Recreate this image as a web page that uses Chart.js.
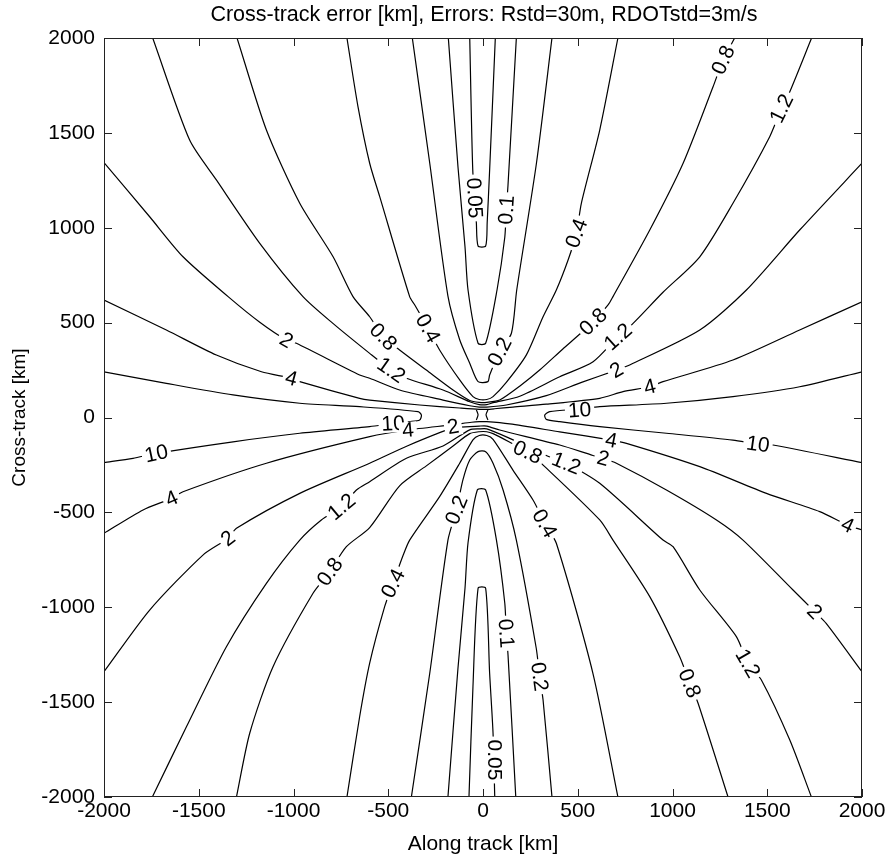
<!DOCTYPE html>
<html>
<head>
<meta charset="utf-8">
<script src="https://cdn.jsdelivr.net/npm/chart.js@4.4.0/dist/chart.umd.min.js"></script>
<style>
  html, body { margin: 0; padding: 0; background: #fff; }
</style>
</head>
<body>
<canvas id="chart" width="890" height="863"></canvas>
<script>
// Contour lines, [along-track km, cross-track km]
const c005Up = [[-70,2000],[-54,1304],[-35,1025],[-26,904],[14,904],[22,1025],[35,1304],[65,2000]];
const c005Dn = [[-74,-2000],[-53,-1419],[-26,-900],[14,-900],[35,-1348],[53,-1664],[62,-2000]];
const c01Up = [[-183,2000],[-132,1320],[-95,900],[-79,672],[-26,391],[14,391],[74,672],[115,950],[123,1094],[132,1225],[176,2000]];
const c01Dn = [[-185,-2000],[-132,-1320],[-95,-900],[-79,-660],[-30,-382],[14,-382],[71,-646],[115,-979],[123,-1137],[132,-1251],[173,-2000]];
const c02Up = [[-373,2000],[-281,1340],[-185,640],[-123,410],[-70,286],[-26,189],[26,189],[35,224],[88,347],[150,444],[178,672],[282,1340],[364,2000]];
const c02Dn = [[-378,-2000],[-281,-1348],[-185,-646],[-140,-487],[-106,-329],[-70,-224],[-26,-180],[14,-180],[53,-241],[106,-382],[176,-646],[281,-1216],[299,-1366],[317,-1489],[364,-2000]];
const c04Up = [[-718,2000],[-660,1640],[-598,1340],[-545,1164],[-387,637],[-360,593],[-290,470],[-229,356],[-123,198],[-53,110],[-20,95],[20,95],[53,110],[123,185],[229,330],[317,531],[387,672],[449,830],[493,971],[519,1129],[616,1515],[712,2000]];
const c04Dn = [[-718,-2000],[-651,-1577],[-598,-1295],[-519,-997],[-475,-874],[-421,-725],[-387,-646],[-229,-417],[-123,-241],[-53,-118],[-20,-95],[20,-95],[53,-115],[158,-277],[264,-435],[326,-556],[387,-663],[580,-1348],[712,-2000]];
const c08Up = [[-1298,2000],[-1143,1515],[-967,1129],[-791,847],[-686,637],[-598,531],[-526,426],[-440,356],[-299,250],[-158,145],[-70,90],[-20,80],[20,80],[88,92],[200,170],[299,250],[420,360],[511,440],[581,505],[660,593],[686,637],[880,988],[1056,1340],[1214,1743],[1267,1884],[1328,2000]];
const c08Dn = [[-1301,-2000],[-1231,-1664],[-1108,-1313],[-897,-926],[-809,-813],[-721,-681],[-598,-580],[-440,-360],[-299,-255],[-158,-150],[-70,-85],[-20,-75],[20,-75],[53,-85],[141,-130],[236,-182],[326,-259],[616,-540],[686,-646],[880,-944],[1038,-1261],[1091,-1400],[1135,-1506],[1293,-2000]];
const c12Up = [[-1743,2000],[-1548,1462],[-1407,1252],[-1178,918],[-950,637],[-792,496],[-598,338],[-484,250],[-404,207],[-211,145],[-70,83],[-20,68],[20,68],[53,78],[194,112],[405,215],[581,294],[712,426],[792,496],[950,660],[1144,847],[1319,1129],[1513,1480],[1575,1629],[1619,1717],[1734,2000]];
const c12Dn = [[-1745,-2000],[-1565,-1630],[-1354,-1208],[-1143,-874],[-967,-646],[-853,-540],[-747,-470],[-668,-382],[-598,-338],[-404,-215],[-211,-150],[-70,-65],[-20,-60],[20,-60],[141,-110],[387,-224],[440,-241],[616,-347],[950,-646],[1003,-681],[1144,-909],[1337,-1155],[1398,-1295],[1469,-1383],[1619,-1700],[1733,-2000]];
const c2Up = [[-2000,1343],[-1759,1058],[-1583,847],[-1345,637],[-1178,502],[-1037,408],[-985,391],[-651,224],[-598,207],[-440,145],[-211,92],[-70,62],[-20,55],[20,55],[123,66],[334,115],[520,185],[704,250],[774,277],[1144,461],[1390,672],[1671,988],[2000,1340]];
const c2Dn = [[-2000,-1340],[-1759,-1015],[-1478,-725],[-1346,-637],[-1301,-584],[-967,-400],[-598,-241],[-400,-150],[-158,-55],[-70,-48],[-20,-45],[20,-45],[88,-66],[405,-145],[580,-200],[634,-215],[704,-241],[968,-382],[1232,-540],[1372,-646],[1636,-909],[1750,-1023],[1811,-1085],[2000,-1340]];
const c4Up = [[-2000,619],[-1671,461],[-1407,329],[-1169,241],[-1011,207],[-967,189],[-651,101],[-598,92],[-334,66],[-123,50],[-20,43],[20,43],[60,46],[158,55],[334,70],[616,101],[739,136],[880,162],[950,189],[1319,303],[1671,461],[2000,610]];
const c4Dn = [[-2000,-610],[-1794,-487],[-1644,-426],[-1583,-391],[-1143,-241],[-598,-101],[-396,-66],[-158,-38],[-60,-25],[-20,-22],[20,-22],[141,-34],[405,-76],[677,-119],[757,-136],[1144,-259],[1496,-400],[1777,-496],[1924,-567],[2000,-593]];
const c10Left = [[-2000,241],[-1671,180],[-1319,119],[-967,75],[-651,57],[-343,31],[-325,13],[-334,-13],[-387,-22],[-474,-31],[-598,-48],[-967,-83],[-1319,-128],[-1724,-189],[-1847,-215],[-2000,-238]];
const c10Right = [[2000,241],[1671,162],[1319,110],[968,75],[616,57],[510,45],[352,31],[326,13],[334,-10],[405,-22],[616,-48],[968,-83],[1319,-119],[1451,-140],[1530,-145],[2000,-238]];
const cCenterL = [[-35,40],[-26,14],[-35,-13]];
const cCenterR = [[26,40],[16,14],[26,-13]];

const contours = [c005Up, c005Dn, c01Up, c01Dn, c02Up, c02Dn, c04Up, c04Dn, c08Up, c08Dn,
  c12Up, c12Dn, c2Up, c2Dn, c4Up, c4Dn, c10Left, c10Right, cCenterL, cCenterR];

// Inline contour labels: [text, along km, cross km]
const labelText = ['0.05','0.1','0.2','0.4','0.4','0.8','0.8','0.8','1.2','1.2','1.2','2','2','4','4',
  '10','4','2','10','10','10','4','4','2','0.8','1.2','0.4','0.2','0.4','1.2','0.8','2','4',
  '0.8','1.2','2','0.1','0.2','0.05'];
const labelX = [-44,123,88,-290,493,-526,581,1267,-484,712,1575,-1037,704,-1011,880,
  -474,-396,-158,510,-1724,1451,1924,677,634,236,440,326,-140,-475,-747,-809,-1346,-1644,
  1091,1398,1750,123,299,62];
const labelY = [1157,1094,347,470,971,426,505,1884,250,426,1629,408,250,207,162,
  -31,-66,-48,40,-189,-140,-567,-119,-215,-182,-241,-558,-487,-874,-470,-813,-637,-426,
  -1401,-1295,-1023,-1137,-1366,-1805];
const labelAngle = [87,-86,-63,61,-70,46,-44,-66,35,-42,-64,30,-30,15,-14,
  -3,-5,-10,-4,-12,8,25,11,15,25,22,60,-68,-63,-40,-55,-38,-24,
  68,60,45,86,82,90];

const xTicks = [-2000,-1500,-1000,-500,0,500,1000,1500,2000];
const yTicks = [-2000,-1500,-1000,-500,0,500,1000,1500,2000];

const FONT = "'Liberation Sans', Arial, Helvetica, sans-serif";

const datasets = contours.map(c => ({
  data: c.map(p => ({ x: p[0], y: p[1] })),
  showLine: true,
  pointRadius: 0,
  borderColor: '#000',
  borderWidth: 1.2,
  tension: 0.25,
  fill: false
}));

// labels, frame, inward ticks and the title
const decorations = {
  id: 'decorations',
  afterDatasetsDraw(chart) {
    const { ctx, scales: { x, y } } = chart;
    ctx.save();
    ctx.font = '21px ' + FONT;
    ctx.textAlign = 'center';
    ctx.textBaseline = 'middle';
    labelText.forEach((t, i) => {
      const px = x.getPixelForValue(labelX[i]);
      const py = y.getPixelForValue(labelY[i]);
      const w = ctx.measureText(t).width;
      ctx.save();
      ctx.translate(px, py);
      ctx.rotate(labelAngle[i] * Math.PI / 180);
      ctx.fillStyle = '#fff';
      ctx.fillRect(-w / 2 - 3, -8, w + 6, 17);
      ctx.fillStyle = '#000';
      ctx.fillText(t, 0, 1);
      ctx.restore();
    });
    ctx.restore();
  },
  afterDraw(chart) {
    const { ctx, chartArea: a, scales: { x, y } } = chart;
    ctx.save();
    ctx.strokeStyle = '#222';
    ctx.lineWidth = 1;
    ctx.strokeRect(a.left + 0.5, a.top + 0.5, a.right - a.left - 1, a.bottom - a.top - 1);
    ctx.beginPath();
    const tl = 8;
    xTicks.forEach(v => {
      const px = Math.round(x.getPixelForValue(v)) + 0.5;
      ctx.moveTo(px, a.bottom); ctx.lineTo(px, a.bottom - tl);
      ctx.moveTo(px, a.top); ctx.lineTo(px, a.top + tl);
    });
    yTicks.forEach(v => {
      const py = Math.round(y.getPixelForValue(v)) + 0.5;
      ctx.moveTo(a.left, py); ctx.lineTo(a.left + tl, py);
      ctx.moveTo(a.right, py); ctx.lineTo(a.right - tl, py);
    });
    ctx.stroke();
    ctx.fillStyle = '#000';
    ctx.font = '21.5px ' + FONT;
    ctx.textAlign = 'center';
    ctx.textBaseline = 'middle';
    ctx.fillText('Cross-track error [km], Errors: Rstd=30m, RDOTstd=3m/s', (a.left + a.right) / 2 + 1, 15);
    ctx.restore();
  }
};

new Chart(document.getElementById('chart'), {
  type: 'scatter',
  data: { datasets },
  options: {
    responsive: false,
    animation: false,
    devicePixelRatio: 1,
    layout: { padding: { top: 38, right: 28, bottom: 0, left: 0 } },
    plugins: { legend: { display: false }, tooltip: { enabled: false }, title: { display: false } },
    scales: {
      x: {
        type: 'linear', min: -2000, max: 2000,
        afterBuildTicks: s => { s.ticks = xTicks.map(v => ({ value: v })); },
        afterFit: s => { s.height = 66; },
        ticks: { color: '#000', font: { family: FONT, size: 21 }, padding: 2, maxRotation: 0, autoSkip: false,
          callback: v => String(v) },
        grid: { display: false, drawTicks: false, tickLength: 0 },
        border: { display: false },
        title: { display: true, text: 'Along track [km]', color: '#000', font: { family: FONT, size: 21 }, padding: { top: 0, bottom: 6 } }
      },
      y: {
        type: 'linear', min: -2000, max: 2000,
        afterBuildTicks: s => { s.ticks = yTicks.map(v => ({ value: v })); },
        afterFit: s => { s.width = 104; },
        ticks: { color: '#000', font: { family: FONT, size: 21 }, padding: 9, autoSkip: false,
          callback: v => String(v) },
        grid: { display: false, drawTicks: false, tickLength: 0 },
        border: { display: false },
        title: { display: true, text: 'Cross-track [km]', color: '#000', font: { family: FONT, size: 19 }, padding: { top: 8, bottom: 0 } }
      }
    }
  },
  plugins: [decorations]
});
</script>
</body>
</html>
